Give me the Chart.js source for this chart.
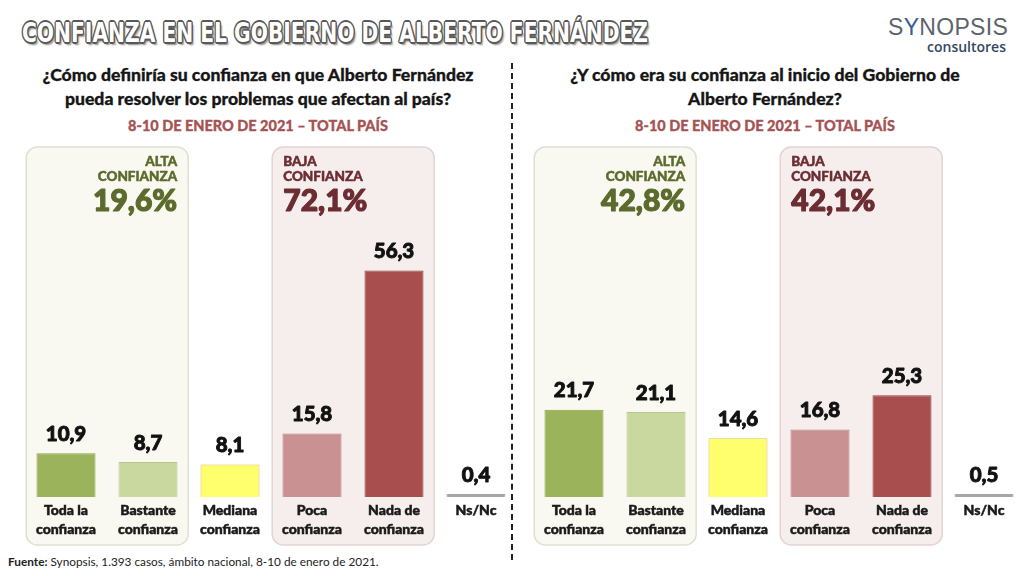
<!DOCTYPE html>
<html><head><meta charset="utf-8">
<script src="https://cdn.jsdelivr.net/npm/chart.js@4.4.1/dist/chart.umd.min.js"></script>
<style>
html,body{margin:0;padding:0;width:1024px;height:576px;overflow:hidden;background:#fff;font-family:Lato,sans-serif;}
.abs{position:absolute;}
#title{left:22px;top:17px;font-family:'DejaVu Sans',sans-serif;font-weight:bold;font-size:26px;line-height:32px;color:#fff;white-space:nowrap;transform-origin:0 0;
 text-shadow:-1.6px 0 #595959,1.6px 0 #595959,0 -1.6px #595959,0 1.6px #595959,-1.2px -1.2px #595959,1.2px 1.2px #595959,-1.2px 1.2px #595959,1.2px -1.2px #595959,2.5px 3px 2px rgba(0,0,0,.45);}
.q{font-family:Lato,sans-serif;font-weight:900;font-size:17.6px;color:#161616;text-align:center;line-height:24px;-webkit-text-stroke:0.3px #161616;}
.d{font-family:Lato,sans-serif;font-weight:900;font-size:14.5px;color:#a55353;text-align:center;-webkit-text-stroke:0.3px #a55353;}
#logo1{left:888px;top:13px;width:118px;text-align:right;font-family:'Liberation Sans',Arial,sans-serif;font-size:23px;color:#5d636b;letter-spacing:0.3px;line-height:28px;}
#logo2{left:900px;top:38px;width:106px;text-align:right;font-family:'Open Sans',sans-serif;font-weight:600;font-size:14px;color:#34495e;line-height:18px;}
#foot{left:8px;top:554px;font-family:Lato,sans-serif;font-size:11.8px;color:#222;white-space:nowrap;}
#divider{left:511px;top:63px;width:0;height:497px;border-left:2px dashed #222;}
.cw{position:absolute;top:140px;width:492px;height:410px;}
</style></head>
<body>
<div id="title" class="abs">CONFIANZA EN EL GOBIERNO DE ALBERTO FERNÁNDEZ</div>
<div id="logo1" class="abs">S<span style="color:#3a5d8f">Y</span>NOPSIS</div>
<div id="logo2" class="abs">consultores</div>
<div class="abs q" style="left:0;top:63px;width:516px;">¿Cómo definiría su confianza en que Alberto Fernández<br>pueda resolver los problemas que afectan al país?</div>
<div class="abs d" style="left:0;top:117px;width:516px;">8-10 DE ENERO DE 2021 – TOTAL PAÍS</div>
<div class="abs q" style="left:512px;top:63px;width:506px;">¿Y cómo era su confianza al inicio del Gobierno de<br>Alberto Fernández?</div>
<div class="abs d" style="left:512px;top:117px;width:506px;">8-10 DE ENERO DE 2021 – TOTAL PAÍS</div>
<div id="divider" class="abs"></div>
<div class="cw" style="left:25px;"><canvas id="c1" width="492" height="410"></canvas></div>
<div class="cw" style="left:533px;"><canvas id="c2" width="492" height="410"></canvas></div>
<div id="foot" class="abs"><b>Fuente:</b> Synopsis, 1.393 casos, ámbito nacional, 8-10 de enero de 2021.</div>
<script>
// ---- data ----
const categories = [["Toda la","confianza"],["Bastante","confianza"],["Mediana","confianza"],["Poca","confianza"],["Nada de","confianza"],"Ns/Nc"];
const valuesNow = [10.9, 8.7, 8.1, 15.8, 56.3, 0.4];
const valuesStart = [21.7, 21.1, 14.6, 16.8, 25.3, 0.5];
const groupNames = [["ALTA","CONFIANZA"],["BAJA","CONFIANZA"]];
const totalsNow = ["19,6%","72,1%"];
const totalsStart = ["42,8%","42,1%"];
const barColors = ["#9bb35a","#c9d89f","#ffff6e","#c99192","#a84e4e","#a6a6a6"];
const barBorders = ["#88a04a","#b5c78a","#dcc84a","#b57c7d","#964141","#a6a6a6"];

// title fit
(function(){
  const t=document.getElementById('title');
  const w=t.getBoundingClientRect().width;
  t.style.transform='scaleX('+(626/w)+')';
})();

const fmt = v => v.toFixed(1).replace('.',',');

function boldText(ctx, s, x, y, w){
  ctx.lineWidth = w; ctx.strokeStyle = ctx.fillStyle; ctx.lineJoin='round';
  ctx.strokeText(s, x, y);
  ctx.fillText(s, x, y);
}

const groupPlugin = {
  id:'groupBoxes',
  beforeDraw(chart, args, opts){
    const {ctx, scales:{x}} = chart;
    const step = x.getPixelForValue(1) - x.getPixelForValue(0);
    const groups = [
      {from:0,to:1,fill:'#f9f9f1',stroke:'#e0e0d2',txt:'#5b6b2c',align:'right'},
      {from:3,to:4,fill:'#f6eeed',stroke:'#e4d4d3',txt:'#6b2c32',align:'left'}
    ];
    groups.forEach((g,i)=>{
      const l = x.getPixelForValue(g.from) - step*0.485;
      const r = x.getPixelForValue(g.to) + step*0.49;
      const t = opts.top, b = opts.bottom;
      ctx.save();
      ctx.beginPath();
      ctx.roundRect(l, t, r-l, b-t, 11);
      ctx.fillStyle = g.fill; ctx.fill();
      ctx.lineWidth = 1.5; ctx.strokeStyle = g.stroke; ctx.stroke();
      ctx.fillStyle = g.txt;
      ctx.textAlign = g.align;
      ctx.textBaseline = 'middle';
      const tx = g.align==='right' ? r-11 : l+11;
      ctx.font = '900 13.5px Lato';
      boldText(ctx, groupNames[i][0], tx, t+15, 0.5);
      boldText(ctx, groupNames[i][1], tx, t+30, 0.5);
      ctx.font = '900 30px Lato';
      boldText(ctx, opts.totals[i], tx, t+54, 1.2);
      ctx.restore();
    });
  }
};

const valuePlugin = {
  id:'valueLabels',
  afterDatasetsDraw(chart){
    const {ctx} = chart;
    const meta = chart.getDatasetMeta(0);
    const data = chart.data.datasets[0].data;
    ctx.save();
    ctx.fillStyle = '#111';
    ctx.font = '900 20.5px Lato';
    ctx.textAlign = 'center';
    ctx.textBaseline = 'middle';
    meta.data.forEach((el,i)=>{
      boldText(ctx, fmt(data[i]), el.x, el.y - 19, 0.9);
    });
    ctx.restore();
  }
};

function makeChart(id, values, totals){
  return new Chart(document.getElementById(id), {
    type:'bar',
    data:{labels:categories, datasets:[{data:values, backgroundColor:barColors, borderColor:barBorders, borderWidth:1, barPercentage:0.72, categoryPercentage:1, minBarLength:3}]},
    options:{
      responsive:false, animation:false, devicePixelRatio:1,
      layout:{padding:{top:35,left:0,right:0,bottom:0}},
      plugins:{legend:{display:false}, tooltip:{enabled:false}, groupBoxes:{totals:totals, top:7, bottom:405}},
      scales:{
        x:{grid:{display:false,drawTicks:false}, border:{display:false},
           ticks:{color:'#1a1a1a', textStrokeColor:'#1a1a1a', textStrokeWidth:0.5, font:{family:'Lato', size:14, weight:'900', lineHeight:1.35}, padding:4, maxRotation:0, autoSkip:false},
           afterFit(s){ s.height = 53; }},
        y:{display:false, min:0, max:80}
      }
    },
    plugins:[groupPlugin, valuePlugin]
  });
}
makeChart('c1', valuesNow, totalsNow);
makeChart('c2', valuesStart, totalsStart);
</script>
</body></html>
